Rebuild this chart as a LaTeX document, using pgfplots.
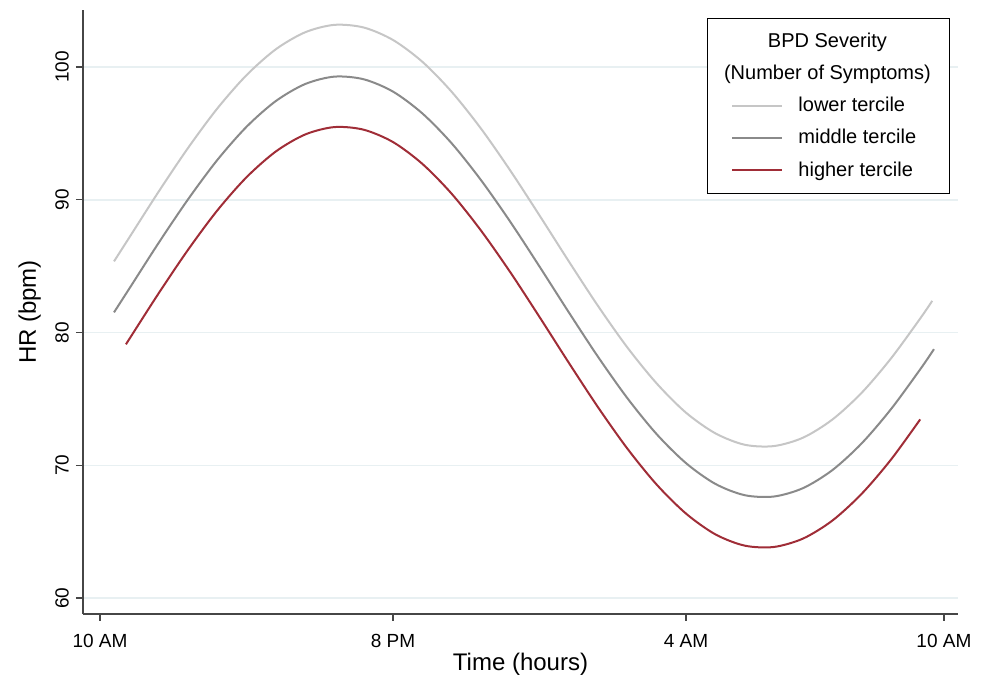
\documentclass[border=0pt]{standalone}
\usepackage{fontspec}
\setmainfont{Liberation Sans}
\usepackage{pgfplots}
\pgfplotsset{compat=1.18}

\definecolor{lowc}{RGB}{198,198,198}
\definecolor{midc}{RGB}{138,138,138}
\definecolor{highc}{RGB}{160,45,55}
\definecolor{gridc}{RGB}{232,240,242}
\definecolor{axc}{RGB}{70,70,70}

\begin{document}
\begin{tikzpicture}
\begin{axis}[
    at={(0,0)}, anchor=south west,
    scale only axis,
    width=437.5pt, height=302pt,
    xmin=-0.58, xmax=29.28,
    ymin=58.8, ymax=104.3,
    axis lines*=left,
    axis line style={axc, line width=0.75pt},
    tick align=outside,
    major tick length=3.5pt,
    tick style={axc, line width=0.6pt},
    xtick={0,10,20,28.8},
    xticklabels={10 AM, 8 PM, 4 AM, 10 AM},
    xticklabel style={yshift=-3pt},
    ytick={60,70,80,90,100},
    yticklabel style={rotate=90, anchor=south},
    ticklabel style={font=\fontsize{9.5}{11}\selectfont},
    /pgf/number format/assume math mode=true,
    ymajorgrids,
    grid style={gridc, line width=0.75pt},
    xlabel={Time (hours)},
    ylabel={HR (bpm)},
    label style={font=\fontsize{12}{14}\selectfont},
    xlabel style={yshift=4pt},
    ylabel style={yshift=0.5pt},
    legend cell align=left,
    legend style={at={(rel axis cs:0.9909,0.9868)}, anchor=north east,
        draw=black, line width=0.6pt, fill=white,
        font=\fontsize{10}{12}\selectfont,
        inner xsep=12pt, inner ysep=5pt, row sep=3.4pt},
    legend image code/.code={\draw[#1] (0pt,0pt) -- (25pt,0pt);
        \path[draw=none] (0pt,0pt) -- (31pt,0pt);},
    every axis plot/.append style={line width=1pt},
]
\addlegendimage{empty legend}
\addlegendentry{\hspace*{-32.5pt}\makebox[94pt][c]{BPD Severity}}
\addlegendimage{empty legend}
\addlegendentry{\hspace*{-32.5pt}\makebox[94pt][c]{(Number of Symptoms)}}

\addplot[lowc, smooth] coordinates {
 (0.478,85.36) (1,87.16) (2,90.61) (3,93.89) (4,96.87) (5,99.39) (6,101.34)
 (7,102.62) (8,103.18) (9,102.98) (10,102.04) (11,100.40) (12,98.14)
 (13,95.37) (14,92.21) (15,88.82) (16,85.36) (17,81.99) (18,78.87)
 (19,76.16) (20,73.96) (21,72.41) (22,71.55) (23,71.45) (24,72.09)
 (25,73.46) (26,75.48) (27,78.07) (28,81.09) (28.4,82.39)
};
\addlegendentry{lower tercile}

\addplot[midc, smooth] coordinates {
 (0.478,81.52) (1,83.31) (2,86.75) (3,90.02) (4,92.99) (5,95.50) (6,97.44)
 (7,98.72) (8,99.28) (9,99.08) (10,98.15) (11,96.51) (12,94.26)
 (13,91.49) (14,88.35) (15,84.97) (16,81.52) (17,78.16) (18,75.05)
 (19,72.34) (20,70.16) (21,68.60) (22,67.75) (23,67.65) (24,68.29)
 (25,69.65) (26,71.67) (27,74.25) (28,77.26) (28.46,78.75)
};
\addlegendentry{middle tercile}

\addplot[highc, smooth] coordinates {
 (0.887,79.12) (1,79.51) (2,82.95) (3,86.22) (4,89.19) (5,91.70) (6,93.64)
 (7,94.92) (8,95.48) (9,95.28) (10,94.35) (11,92.71) (12,90.46)
 (13,87.69) (14,84.55) (15,81.17) (16,77.72) (17,74.36) (18,71.25)
 (19,68.54) (20,66.36) (21,64.80) (22,63.95) (23,63.85) (24,64.49)
 (25,65.85) (26,67.87) (27,70.45) (27.99,73.46)
};
\addlegendentry{higher tercile}
\end{axis}
\pgfresetboundingbox
\path (-41.5pt,-32pt) rectangle (451.5pt,307pt);
\end{tikzpicture}
\end{document}
